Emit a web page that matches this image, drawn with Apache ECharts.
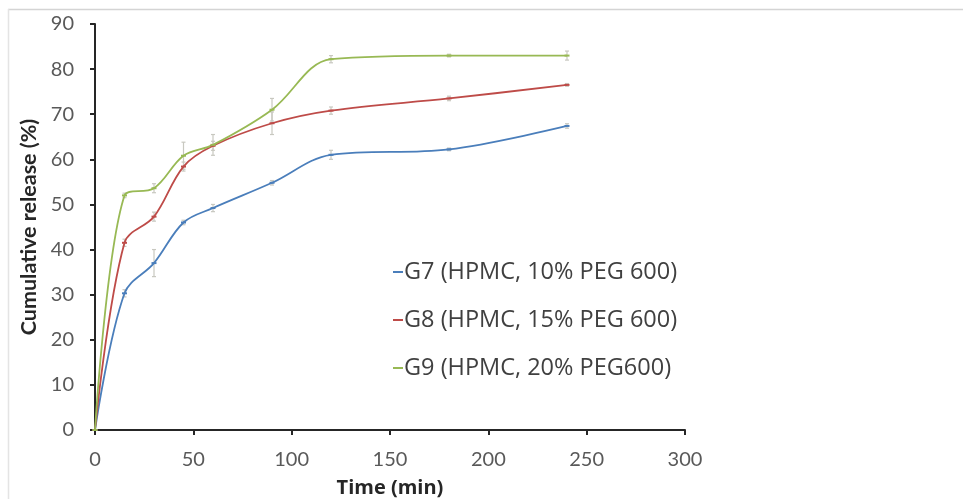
<!DOCTYPE html>
<html>
<head>
<meta charset="utf-8">
<script src="https://cdn.jsdelivr.net/npm/echarts@6/dist/echarts.min.js"></script>
<style>
html, body { margin: 0; padding: 0; background: #fff; }
#chart { width: 963px; height: 499px; }
</style>
</head>
<body>
<div id="chart"></div>
<script>
// sampling times (min)
var times = [0, 15, 30, 45, 60, 90, 120, 180, 240];
// cumulative release (%)
var g7 = [0, 30.3, 37, 46, 49.2, 54.8, 61, 62.2, 67.4];
var g8 = [0, 41.5, 47.3, 58.4, 63, 68, 70.8, 73.5, 76.5];
var g9 = [0, 52, 53.6, 60.8, 63.2, 71, 82.2, 83, 83];
// error bars (+/-)
var g7Err = [0, 0.8, 3, 0.5, 0.8, 0.5, 1, 0.3, 0.5];
var g8Err = [0, 0.8, 1, 1, 1, 2.5, 0.8, 0.5, 0.3];
var g9Err = [0, 0.5, 1, 3, 2.3, 2.5, 0.8, 0.3, 1];
var names = ['G7 (HPMC, 10% PEG 600)', 'G8 (HPMC, 15% PEG 600)', 'G9 (HPMC, 20% PEG600)'];
var colors = ['#4a7ebb', '#be4b48', '#98b954'];

var chart = echarts.init(document.getElementById('chart'));

function pairs(vals) {
    var out = [];
    for (var i = 0; i < times.length; i++) out.push([times[i], vals[i]]);
    return out;
}

function errData(vals, errs) {
    var out = [];
    for (var i = 0; i < times.length; i++) {
        if (errs[i] > 0) out.push([times[i], vals[i] - errs[i], vals[i] + errs[i]]);
    }
    return out;
}

function errRender(params, api) {
    var lo = api.coord([api.value(0), api.value(1)]);
    var hi = api.coord([api.value(0), api.value(2)]);
    var w = 2;
    var st = { stroke: '#c8c8c0', lineWidth: 1.2 };
    return {
        type: 'group',
        children: [
            { type: 'line', shape: { x1: lo[0], y1: lo[1], x2: hi[0], y2: hi[1] }, style: st },
            { type: 'line', shape: { x1: lo[0] - w, y1: lo[1], x2: lo[0] + w, y2: lo[1] }, style: st },
            { type: 'line', shape: { x1: hi[0] - w, y1: hi[1], x2: hi[0] + w, y2: hi[1] }, style: st }
        ]
    };
}

var all = [g7, g8, g9];
var errs = [g7Err, g8Err, g9Err];
var series = [];
for (var k = 0; k < 3; k++) {
    series.push({
        type: 'custom',
        renderItem: errRender,
        data: errData(all[k], errs[k]),
        encode: { x: 0, y: [1, 2] },
        z: 1,
        silent: true
    });
}
for (var k = 0; k < 3; k++) {
    series.push({
        name: names[k],
        type: 'line',
        data: pairs(all[k]),
        smooth: 0.35,
        symbol: 'rect',
        symbolSize: [5, 2],
        itemStyle: { color: colors[k] },
        lineStyle: { color: colors[k], width: 1.8 },
        z: 3
    });
}

var axisLabelStyle = { color: '#595959', fontSize: 20, fontFamily: 'Lato' };

chart.setOption({
    animation: false,
    textStyle: { fontFamily: 'Lato' },
    grid: { left: 95, right: 278, top: 24, bottom: 69, outerBoundsMode: 'none' },
    legend: {
        data: names,
        orient: 'vertical',
        left: 388,
        top: 255,
        itemGap: 24,
        itemWidth: 10,
        itemHeight: 2,
        icon: 'rect',
        textStyle: { color: '#404040', fontSize: 23.5, fontFamily: 'Open Sans', padding: [0, 0, 0, -4] }
    },
    xAxis: {
        type: 'value',
        min: 0,
        max: 300,
        interval: 50,
        name: 'Time (min)',
        nameLocation: 'middle',
        nameGap: 48,
        nameTextStyle: { color: '#262626', fontSize: 20, fontWeight: 'bold', fontFamily: 'Open Sans' },
        axisLine: { lineStyle: { color: '#262626', width: 2 } },
        axisTick: { show: true, length: 5, lineStyle: { color: '#262626', width: 2 } },
        axisLabel: Object.assign({ margin: 20 }, axisLabelStyle),
        splitLine: { show: false }
    },
    yAxis: {
        type: 'value',
        min: 0,
        max: 90,
        interval: 10,
        name: 'Cumulative release (%)',
        nameLocation: 'middle',
        nameGap: 51,
        nameTextStyle: { color: '#262626', fontSize: 21.5, fontWeight: 'bold', fontFamily: 'Lato' },
        axisLine: { show: true, lineStyle: { color: '#262626', width: 2 } },
        axisTick: { show: true, length: 5, lineStyle: { color: '#262626', width: 2 } },
        axisLabel: Object.assign({ margin: 21 }, axisLabelStyle),
        splitLine: { show: false }
    },
    graphic: [
        { type: 'line', shape: { x1: 8, y1: 9.5, x2: 963, y2: 9.5 }, style: { stroke: '#d4d4d4', lineWidth: 1.5 } },
        { type: 'line', shape: { x1: 8.5, y1: 9, x2: 8.5, y2: 499 }, style: { stroke: '#e4e4e4', lineWidth: 1.5 } }
    ],
    series: series
});
</script>
</body>
</html>
